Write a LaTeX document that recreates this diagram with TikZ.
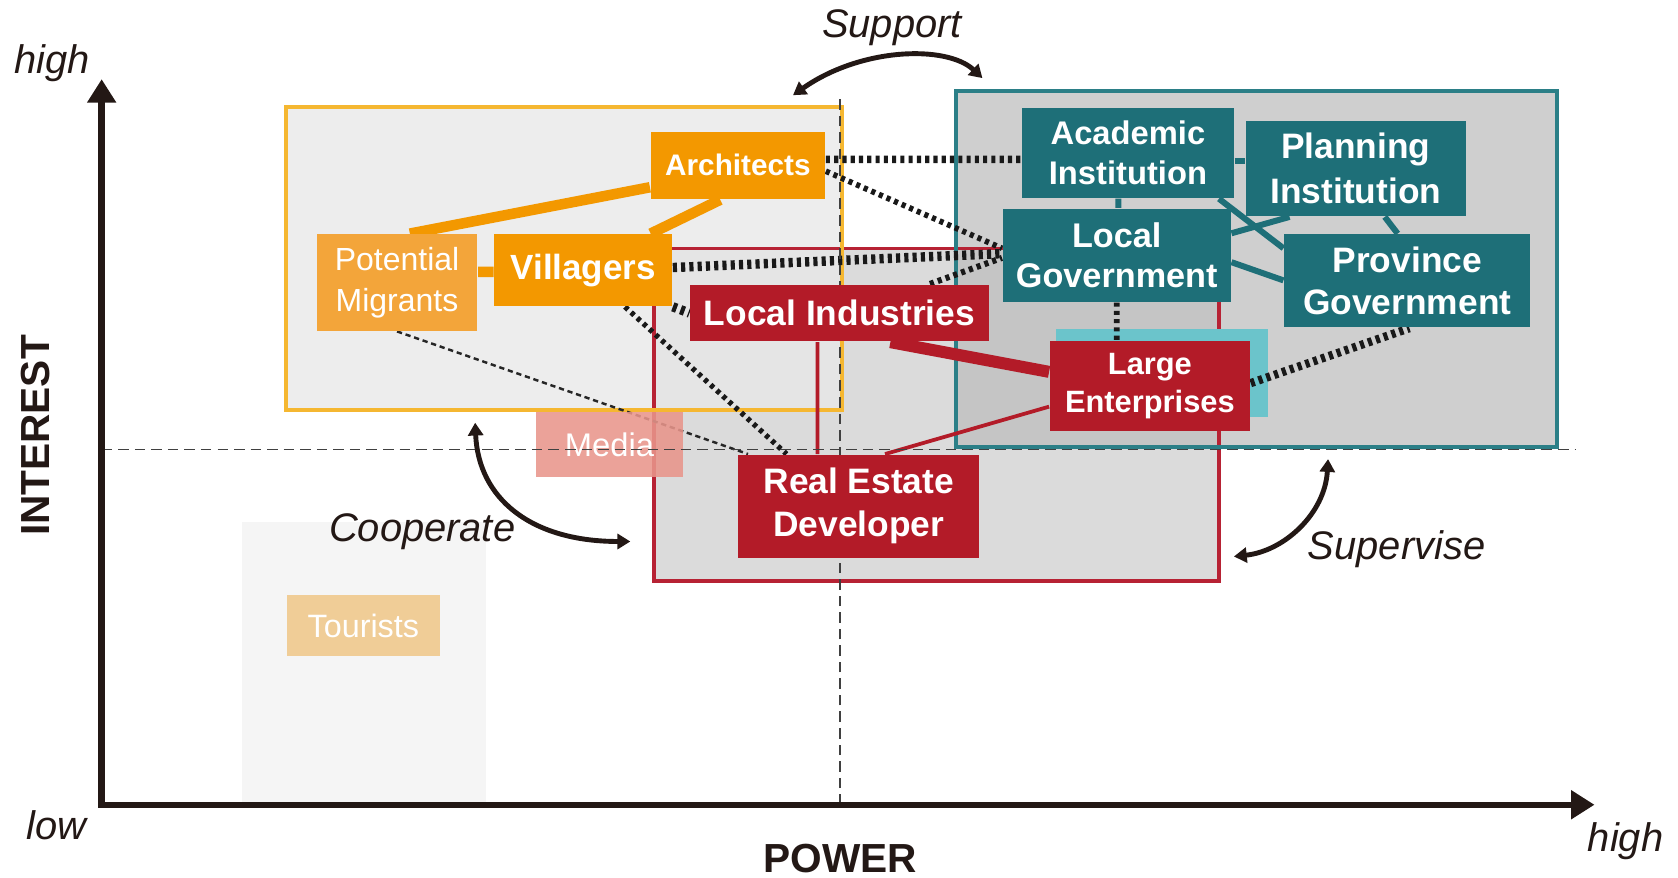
\documentclass[tikz,border=0pt]{standalone}
\usepackage{fontspec}
\setmainfont{Liberation Sans}
\usetikzlibrary{calc,arrows.meta}
\definecolor{inkblack}{HTML}{231815}
\definecolor{orgfill}{HTML}{F39800}
\definecolor{orgsoft}{HTML}{F3A53A}
\definecolor{orgline}{HTML}{F5B731}
\definecolor{redfill}{HTML}{B31B28}
\definecolor{redline}{HTML}{B72234}
\definecolor{tealfill}{HTML}{1E6F78}
\definecolor{tealline}{HTML}{2B7F87}
\definecolor{cyanfill}{HTML}{6BC4CB}
\definecolor{mediafill}{HTML}{E8958B}
\definecolor{tourfill}{HTML}{F0CD97}
\newcommand{\fsz}[2]{\fontsize{#1}{#2}\selectfont}
\pgfdeclarelayer{zones}
\pgfdeclarelayer{links}
\pgfsetlayers{zones,links,main}

\begin{document}
\begin{tikzpicture}[
  box/.style={rectangle, inner sep=0pt, text=white, align=center},
  orgnode/.style={box, fill=orgfill},
  rednode/.style={box, fill=redfill},
  tealnode/.style={box, fill=tealfill},
  orglink/.style={draw=orgfill, line width=2.8pt},
  teallink/.style={draw=tealfill, line width=1.6pt},
  redlink/.style={draw=redfill, line width=#1},
  dotlink/.style={draw=black!90, line width=#1, dash pattern=on 1.1pt off 1.1pt},
  thinlink/.style={draw=black!85, line width=0.65pt, dash pattern=on 1.4pt off 1pt},
  guide/.style={draw=black!75, line width=0.5pt, dash pattern=on 2.8pt off 1.6pt},
  axis/.style={draw=inkblack, line width=1.7pt},
  relarrow/.style={draw=inkblack, line width=1.3pt,
    {Triangle[length=1.2mm,width=1.4mm]}-{Triangle[length=1.2mm,width=1.4mm]}},
  tag/.style={font=\itshape\fsz{10.6}{12}, text=inkblack, inner sep=0pt, anchor=base},
  axlabel/.style={font=\bfseries\fsz{10.8}{12}, text=inkblack, inner sep=0pt},
]
\useasboundingbox (0,0) rectangle (15.68,8.20);

% stakeholders
\node[orgnode, minimum width=1.63cm, minimum height=0.63cm, font=\bfseries\fsz{7.9}{9.6}] (arch) at (6.895,6.655) {Architects};
\node[box, fill=orgsoft, minimum width=1.50cm, minimum height=0.90cm, font=\fsz{8.5}{10.8}] (pm) at (3.71,5.56) {Potential\\Migrants};
\node[orgnode, minimum width=1.66cm, minimum height=0.67cm, font=\bfseries\fsz{9.3}{11}] (vil) at (5.45,5.675) {Villagers};
\node[rednode, minimum width=2.79cm, minimum height=0.53cm, font=\bfseries\fsz{9.4}{11}] (lind) at (7.845,5.275) {Local Industries};
\node[rednode, minimum width=2.25cm, minimum height=0.96cm, font=\bfseries\fsz{9.4}{11.4}] (rea) at (8.025,3.47) {Real Estate\\Developer};
\node[rednode, minimum width=1.87cm, minimum height=0.84cm, font=\bfseries\fsz{8.2}{10}] (lent) at (10.745,4.59) {Large\\Enterprises};
\node[tealnode, minimum width=1.98cm, minimum height=0.84cm, font=\bfseries\fsz{8.7}{10.5}] (acad) at (10.54,6.77) {Academic\\Institution};
\node[tealnode, minimum width=2.06cm, minimum height=0.89cm, font=\bfseries\fsz{9.4}{12}] (plan) at (12.67,6.625) {Planning\\Institution};
\node[tealnode, minimum width=2.13cm, minimum height=0.87cm, font=\bfseries\fsz{9.1}{10.8}] (lgov) at (10.435,5.815) {Local\\Government};
\node[tealnode, minimum width=2.30cm, minimum height=0.87cm, font=\bfseries\fsz{9.4}{11.4}] (prov) at (13.15,5.575) {Province\\Government};

% zones behind everything
\begin{pgfonlayer}{zones}
  \fill[black!4] (2.26,0.68) rectangle (4.54,3.32);
  \node[box, fill=tourfill, minimum width=1.43cm, minimum height=0.57cm, font=\fsz{8.6}{10}] (tour) at (3.395,2.355) {Tourists};
  \fill[black!14] (6.11,2.77) rectangle (11.39,5.88);
  \fill[black!9, opacity=0.8] (2.67,4.37) rectangle (7.87,7.20);
  \fill[black!26, opacity=0.72] (8.93,4.02) rectangle (14.55,7.35);
  \draw[redline, line width=0.9pt] (6.11,2.77) rectangle (11.39,5.88);
  \draw[orgline, line width=1.1pt] (2.67,4.37) rectangle (7.87,7.20);
  \draw[tealline, line width=1.1pt] (8.93,4.02) rectangle (14.55,7.35);
  \fill[cyanfill] (9.87,4.30) rectangle (11.85,5.13);
\end{pgfonlayer}

% links
\begin{pgfonlayer}{links}
  \draw[orglink] ($(pm.north)+(0.12,0)$) -- ($(arch.west)+(0,-0.205)$);
  \draw[orglink] ($(vil.north)+(0.63,0)$) -- ($(arch.south)+(-0.165,0)$);
  \draw[orglink] ($(pm.east)+(0,0.10)$) -- ($(vil.west)+(0,-0.015)$);

  \draw[teallink] ($(acad.south)+(-0.09,0)$) -- ($(lgov.north)+(0.015,0)$);
  \draw[teallink] ($(acad.east)+(0,-0.07)$) -- ($(plan.west)+(0,0.075)$);
  \draw[teallink] ($(acad.south)+(0.85,0)$) -- ($(prov.west)+(0,0.305)$);
  \draw[teallink] ($(lgov.east)+(0,0.205)$) -- ($(plan.south)+(-0.62,0)$);
  \draw[teallink] ($(lgov.east)+(0,-0.065)$) -- ($(prov.west)+(0,0.005)$);
  \draw[teallink] ($(plan.south)+(0.27,0)$) -- ($(prov.north)+(-0.09,0)$);

  \draw[redlink=1pt] ($(lind.south)+(-0.205,0)$) -- ($(rea.north)+(-0.385,0)$);
  \draw[redlink=3.2pt] ($(lind.south)+(0.475,0)$) -- ($(lent.west)+(0,0.135)$);
  \draw[redlink=1pt] ($(lent.west)+(0,-0.19)$) -- ($(rea.north)+(0.245,0)$);

  \draw[dotlink=2pt] ($(arch.east)+(0,0.055)$) -- ($(acad.west)+(0,-0.06)$);
  \draw[dotlink=1.5pt] ($(arch.east)+(0,-0.055)$) -- ($(lgov.west)+(0,0.065)$);
  \draw[dotlink=2.5pt] ($(vil.east)+(0,0.025)$) -- ($(lgov.west)+(0,0.015)$);
  \draw[dotlink=2.5pt] (vil.south east) -- (lind.west);
  \draw[dotlink=1.6pt] ($(lind.north)+(0.845,0)$) -- ($(lgov.west)+(0,-0.025)$);
  \draw[dotlink=1.4pt] ($(vil.south)+(0.39,0)$) -- ($(rea.north)+(-0.675,0)$);
  \draw[thinlink] (pm.south) -- ($(rea.north)+(-1.035,0)$);
  \draw[dotlink=1.5pt] (lgov.south) -- ($(lent.north)+(-0.31,0)$);
  \draw[dotlink=2.2pt] ($(lent.east)+(0,0.03)$) -- ($(prov.south)+(0.02,0)$);

  \node[box, fill=mediafill, opacity=0.88, text opacity=1, minimum width=1.37cm, minimum height=0.61cm, font=\fsz{8.7}{10}] (media) at (5.695,4.045) {Media};

  % quadrant guides
  \coordinate (vtop) at (7.85,7.30);
  \coordinate (vbot) at (7.85,0.68);
  \coordinate (hleft) at (0.95,4.00);
  \coordinate (hright) at (14.73,4.00);
  \draw[guide] (vbot) -- (vtop);
  \draw[guide] (hleft) -- (hright);
\end{pgfonlayer}

% axes
\coordinate (orig) at (0.95,0.68);
\coordinate (ytip) at (0.95,7.46);
\coordinate (xtip) at (14.90,0.68);
\draw[axis, {Triangle[length=2.2mm,width=2.6mm]}-{Triangle[length=2.2mm,width=2.6mm]}] (ytip) -- (orig) -- (xtip);
\node[tag] (yhigh) at (0.485,7.51) {high};
\node[tag] (ylow) at (0.525,0.36) {low};
\node[tag] (xhigh) at (15.19,0.24) {high};
\node[axlabel, rotate=90] (interest) at (0.33,4.13) {INTEREST};
\node[axlabel, anchor=base] (power) at (7.85,0.05) {POWER};

% relations
\coordinate (supR) at (9.18,7.47);
\coordinate (supL) at (7.41,7.31);
\draw[relarrow] (supR) .. controls (8.85,7.78) and (8.05,7.76) .. (supL);
\node[tag] (support) at (8.335,7.85) {Support};
\coordinate (coopT) at (4.44,4.25);
\coordinate (coopR) at (5.89,3.14);
\draw[relarrow] (coopT) .. controls (4.47,3.55) and (4.95,3.14) .. (coopR);
\node[tag] (coop) at (3.945,3.14) {Cooperate};
\coordinate (supvT) at (12.41,3.91);
\coordinate (supvL) at (11.53,3.00);
\draw[relarrow] (supvT) .. controls (12.38,3.40) and (12.0,3.05) .. (supvL);
\node[tag] (supv) at (13.05,2.97) {Supervise};
\end{tikzpicture}
\end{document}
